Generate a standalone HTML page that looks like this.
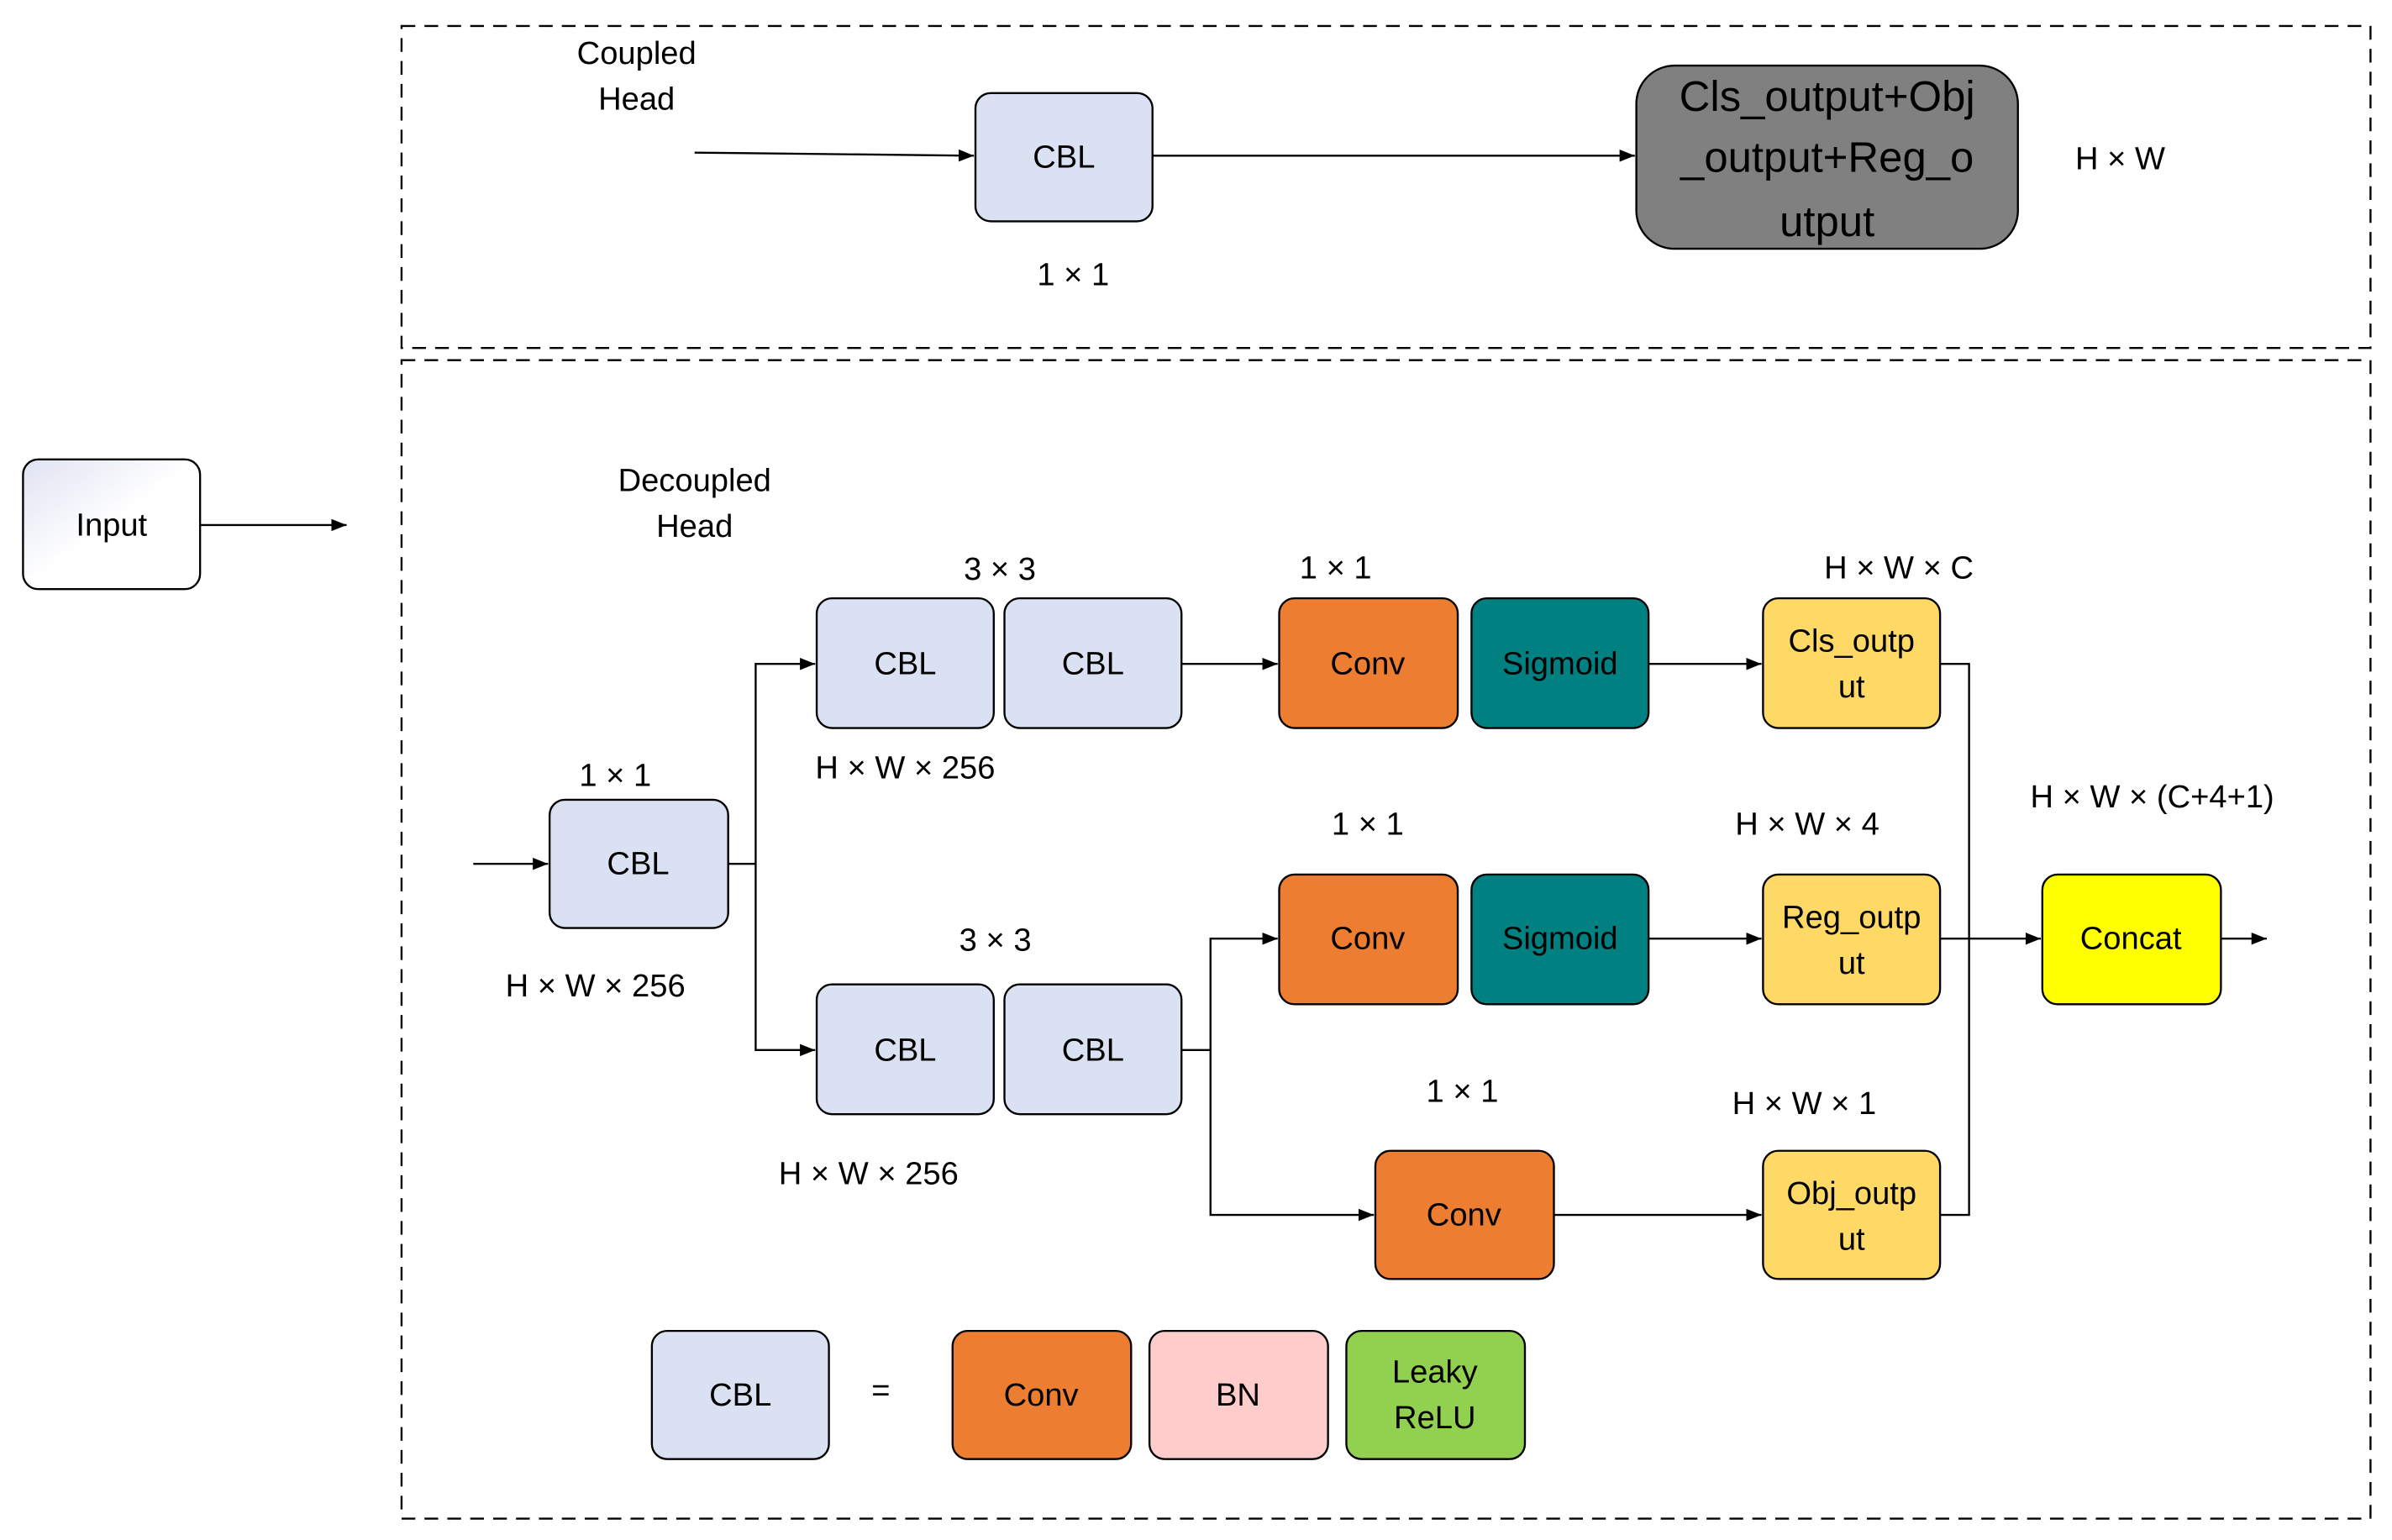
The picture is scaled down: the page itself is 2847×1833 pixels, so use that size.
<!DOCTYPE html>
<html><head><meta charset="utf-8"><style>
html,body{margin:0;padding:0;background:#fff;}
svg{display:block;}
text{font-family:"Liberation Sans",sans-serif;font-size:21px;fill:#000;text-anchor:middle;dominant-baseline:central;}
</style></head><body>
<svg width="2847" height="1833" viewBox="0 0 1567 1009" xmlns="http://www.w3.org/2000/svg">
<defs>
<marker id="a" markerWidth="10" markerHeight="8" refX="10" refY="4" orient="auto" markerUnits="userSpaceOnUse"><path d="M0,0 L10,4 L0,8 z" fill="#000"/></marker>
<linearGradient id="g" x1="0" y1="0" x2="1" y2="1"><stop offset="0" stop-color="#dfe3f2"/><stop offset="0.5" stop-color="#ffffff"/><stop offset="1" stop-color="#ffffff"/></linearGradient>
</defs>
<g fill="none" stroke="#000" stroke-width="1.3" stroke-dasharray="9,6">
<rect x="263" y="17" width="1290" height="211"/>
<rect x="263" y="236" width="1290" height="759"/>
</g>
<g stroke="#000" stroke-width="1.3">
<rect x="15" y="301" width="116" height="85" rx="10" fill="url(#g)"/>
<rect x="639" y="61" width="116" height="84" rx="10" fill="#dae1f3"/>
<rect x="1072" y="43" width="250" height="120" rx="25" fill="#808080"/>
<rect x="360" y="524" width="117" height="84" rx="10" fill="#dae1f3"/>
<rect x="535" y="392" width="116" height="85" rx="10" fill="#dae1f3"/>
<rect x="658" y="392" width="116" height="85" rx="10" fill="#dae1f3"/>
<rect x="535" y="645" width="116" height="85" rx="10" fill="#dae1f3"/>
<rect x="658" y="645" width="116" height="85" rx="10" fill="#dae1f3"/>
<rect x="838" y="392" width="117" height="85" rx="10" fill="#ed7d31"/>
<rect x="964" y="392" width="116" height="85" rx="10" fill="#008080"/>
<rect x="838" y="573" width="117" height="85" rx="10" fill="#ed7d31"/>
<rect x="964" y="573" width="116" height="85" rx="10" fill="#008080"/>
<rect x="901" y="754" width="117" height="84" rx="10" fill="#ed7d31"/>
<rect x="1155" y="392" width="116" height="85" rx="10" fill="#ffd966"/>
<rect x="1155" y="573" width="116" height="85" rx="10" fill="#ffd966"/>
<rect x="1155" y="754" width="116" height="84" rx="10" fill="#ffd966"/>
<rect x="1338" y="573" width="117" height="85" rx="10" fill="#ffff00"/>
<rect x="427" y="872" width="116" height="84" rx="10" fill="#dae1f3"/>
<rect x="624" y="872" width="117" height="84" rx="10" fill="#ed7d31"/>
<rect x="753" y="872" width="117" height="84" rx="10" fill="#ffcccc"/>
<rect x="882" y="872" width="117" height="84" rx="10" fill="#92d050"/>
</g>
<g stroke="#000" stroke-width="1.3" fill="none">
<path d="M131,344 H227" marker-end="url(#a)"/>
<path d="M455,100 L638,102" marker-end="url(#a)"/>
<path d="M755,102 H1071" marker-end="url(#a)"/>
<path d="M310,566 H359" marker-end="url(#a)"/>
<path d="M477,566 H495 V435 H534" marker-end="url(#a)"/>
<path d="M495,566 V688 H534" marker-end="url(#a)"/>
<path d="M774,435 H837" marker-end="url(#a)"/>
<path d="M1080,435 H1154" marker-end="url(#a)"/>
<path d="M774,688 H793 V615 H837" marker-end="url(#a)"/>
<path d="M793,688 V796 H900" marker-end="url(#a)"/>
<path d="M1080,615 H1154" marker-end="url(#a)"/>
<path d="M1018,796 H1154" marker-end="url(#a)"/>
<path d="M1271,435 H1290 V796 H1271"/>
<path d="M1271,615 H1337" marker-end="url(#a)"/>
<path d="M1455,615 H1485" marker-end="url(#a)"/>
</g>
<text x="73" y="344">Input</text>
<text x="417" y="35">Coupled</text>
<text x="417" y="65">Head</text>
<text x="697" y="103">CBL</text>
<text x="703" y="180">1 × 1</text>
<text x="1197" y="63" style="font-size:28px">Cls_output+Obj</text>
<text x="1197" y="103" style="font-size:28px">_output+Reg_o</text>
<text x="1197" y="145" style="font-size:28px">utput</text>
<text x="1389" y="104">H × W</text>
<text x="455" y="315">Decoupled</text>
<text x="455" y="345">Head</text>
<text x="403" y="508">1 × 1</text>
<text x="418" y="566">CBL</text>
<text x="390" y="646">H × W × 256</text>
<text x="655" y="373">3 × 3</text>
<text x="593" y="435">CBL</text>
<text x="716" y="435">CBL</text>
<text x="593" y="503">H × W × 256</text>
<text x="652" y="616">3 × 3</text>
<text x="593" y="688">CBL</text>
<text x="716" y="688">CBL</text>
<text x="569" y="769">H × W × 256</text>
<text x="875" y="372">1 × 1</text>
<text x="896" y="435">Conv</text>
<text x="1022" y="435" style="fill:#000">Sigmoid</text>
<text x="896" y="540">1 × 1</text>
<text x="896" y="615">Conv</text>
<text x="1022" y="615">Sigmoid</text>
<text x="958" y="715">1 × 1</text>
<text x="959" y="796">Conv</text>
<text x="1244" y="372">H × W × C</text>
<text x="1213" y="420">Cls_outp</text>
<text x="1213" y="450">ut</text>
<text x="1184" y="540">H × W × 4</text>
<text x="1213" y="601">Reg_outp</text>
<text x="1213" y="631">ut</text>
<text x="1182" y="723">H × W × 1</text>
<text x="1213" y="782">Obj_outp</text>
<text x="1213" y="812">ut</text>
<text x="1410" y="522">H × W × (C+4+1)</text>
<text x="1396" y="615">Concat</text>
<text x="485" y="914">CBL</text>
<text x="577" y="911">=</text>
<text x="682" y="914">Conv</text>
<text x="811" y="914">BN</text>
<text x="940" y="899">Leaky</text>
<text x="940" y="929">ReLU</text>
</svg>
</body></html>
